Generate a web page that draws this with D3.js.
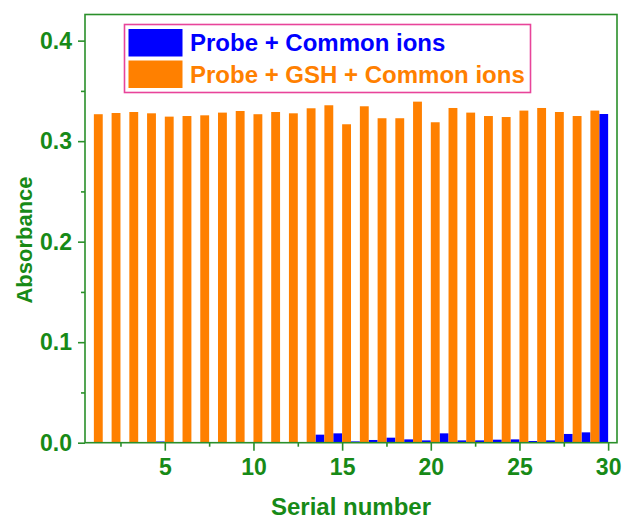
<!DOCTYPE html>
<html>
<head>
<meta charset="utf-8">
<script src="https://cdn.jsdelivr.net/npm/d3@7"></script>
<style>
  html, body { margin: 0; padding: 0; background: #fff; }
  svg { display: block; font-family: "Liberation Sans", Arial, sans-serif; }
</style>
</head>
<body>
<svg id="chart" width="624" height="519"></svg>
<script>
// Serial numbers of the samples
const serials = d3.range(1, 31);
// Absorbance, Probe + Common ions (serial 1..30)
const probeIons = [0, 0, 0, 0, 0.0012, 0, 0, 0, 0.0005, 0.0005,
                   0, 0, 0.0005, 0.008, 0.0093, 0.0013, 0.0027, 0.005, 0.0033, 0.0023,
                   0.0093, 0.0023, 0.0023, 0.003, 0.0033, 0.0017, 0.0023, 0.0087, 0.0103, 0.327];
// Absorbance, Probe + GSH + Common ions (serial 1..29, none for 30)
const probeGshIons = [0.3268, 0.328, 0.329, 0.3277, 0.3244, 0.325, 0.3257, 0.3284, 0.330, 0.3268,
                      0.329, 0.3277, 0.3327, 0.3357, 0.3168, 0.3347, 0.3228, 0.3228, 0.3393, 0.3188,
                      0.333, 0.3284, 0.325, 0.324, 0.3304, 0.333, 0.329, 0.325, 0.3304, null];
const seriesNames = ["Probe + Common ions", "Probe + GSH + Common ions"];
const seriesColors = ["#0000ff", "#ff8000"];
const xTicks = [5, 10, 15, 20, 25, 30];
const yTicks = [0.0, 0.1, 0.2, 0.3, 0.4];

const axisColor = "#2a8f2a";
const textColor = "#178a17";

const margin = { left: 85, right: 7, top: 14.5, bottom: 76.3 };
const W = 624, H = 519;
const svg = d3.select("#chart");

const x = d3.scaleLinear().domain([0.5, 30.5]).range([margin.left, W - margin.right]);
const y = d3.scaleLinear().domain([0, 0.426]).range([H - margin.bottom, margin.top]);

const rows = serials.map((s, i) => ({ s, a: probeIons[i], b: probeGshIons[i] }));

// Each serial holds two half-width bars: blue on the left half, orange on the right half
const g = svg.append("g");
g.selectAll("rect.ions").data(rows.filter(d => d.a != null)).join("rect")
  .attr("class", "ions")
  .attr("x", d => x(d.s - 0.5))
  .attr("width", d => x(d.s) - x(d.s - 0.5))
  .attr("y", d => y(d.a))
  .attr("height", d => y(0) - y(d.a))
  .attr("fill", seriesColors[0]);
g.selectAll("rect.gsh").data(rows.filter(d => d.b != null)).join("rect")
  .attr("class", "gsh")
  .attr("x", d => x(d.s))
  .attr("width", d => x(d.s + 0.5) - x(d.s))
  .attr("y", d => y(d.b))
  .attr("height", d => y(0) - y(d.b))
  .attr("fill", seriesColors[1]);

// Frame
svg.append("rect")
  .attr("x", margin.left).attr("y", margin.top)
  .attr("width", W - margin.right - margin.left)
  .attr("height", H - margin.bottom - margin.top)
  .attr("fill", "none").attr("stroke", axisColor).attr("stroke-width", 1.6);

// Axes
const xMinor = xTicks.map(t => t - 2.5);
const yMinor = yTicks.slice(0, -1).map(t => t + 0.05);

function styleAxis(sel) {
  sel.select(".domain").remove();
  sel.selectAll("line").attr("stroke", axisColor).attr("stroke-width", 1.6);
  sel.selectAll("text").attr("fill", textColor).attr("font-weight", "bold").attr("font-size", 23);
}

svg.append("g").attr("transform", `translate(0,${y(0)})`)
  .call(d3.axisBottom(x).tickValues(xMinor).tickSize(4).tickFormat(""))
  .call(styleAxis);
svg.append("g").attr("transform", `translate(0,${y(0)})`)
  .call(d3.axisBottom(x).tickValues(xTicks).tickSize(8).tickPadding(8).tickFormat(d3.format("d")))
  .call(styleAxis);
svg.append("g").attr("transform", `translate(${x.range()[0]},0)`)
  .call(d3.axisLeft(y).tickValues(yMinor).tickSize(4).tickFormat(""))
  .call(styleAxis);
svg.append("g").attr("transform", `translate(${x.range()[0]},0)`)
  .call(d3.axisLeft(y).tickValues(yTicks).tickSize(7).tickPadding(6).tickFormat(d3.format(".1f")))
  .call(styleAxis);

// Axis titles
svg.append("text")
  .attr("x", (x.range()[0] + x.range()[1]) / 2).attr("y", 515)
  .attr("text-anchor", "middle").attr("font-weight", "bold").attr("font-size", 24)
  .attr("fill", textColor).text("Serial number");
svg.append("text")
  .attr("transform", "translate(32,240) rotate(-90)")
  .attr("text-anchor", "middle").attr("font-weight", "bold").attr("font-size", 22)
  .attr("fill", textColor).text("Absorbance");

// Legend
const lg = svg.append("g");
lg.append("rect").attr("x", 124.5).attr("y", 24.5).attr("width", 406).attr("height", 68)
  .attr("fill", "#fff").attr("stroke", "#e8449a").attr("stroke-width", 1.6);
seriesNames.forEach((name, i) => {
  const yy = 29 + i * 31.5;
  lg.append("rect").attr("x", 128.5).attr("y", yy).attr("width", 54).attr("height", 27.5)
    .attr("fill", seriesColors[i]);
  lg.append("text").attr("x", 190).attr("y", yy + 22)
    .attr("font-weight", "bold").attr("font-size", 24)
    .attr("fill", seriesColors[i]).text(name);
});
</script>
</body>
</html>
